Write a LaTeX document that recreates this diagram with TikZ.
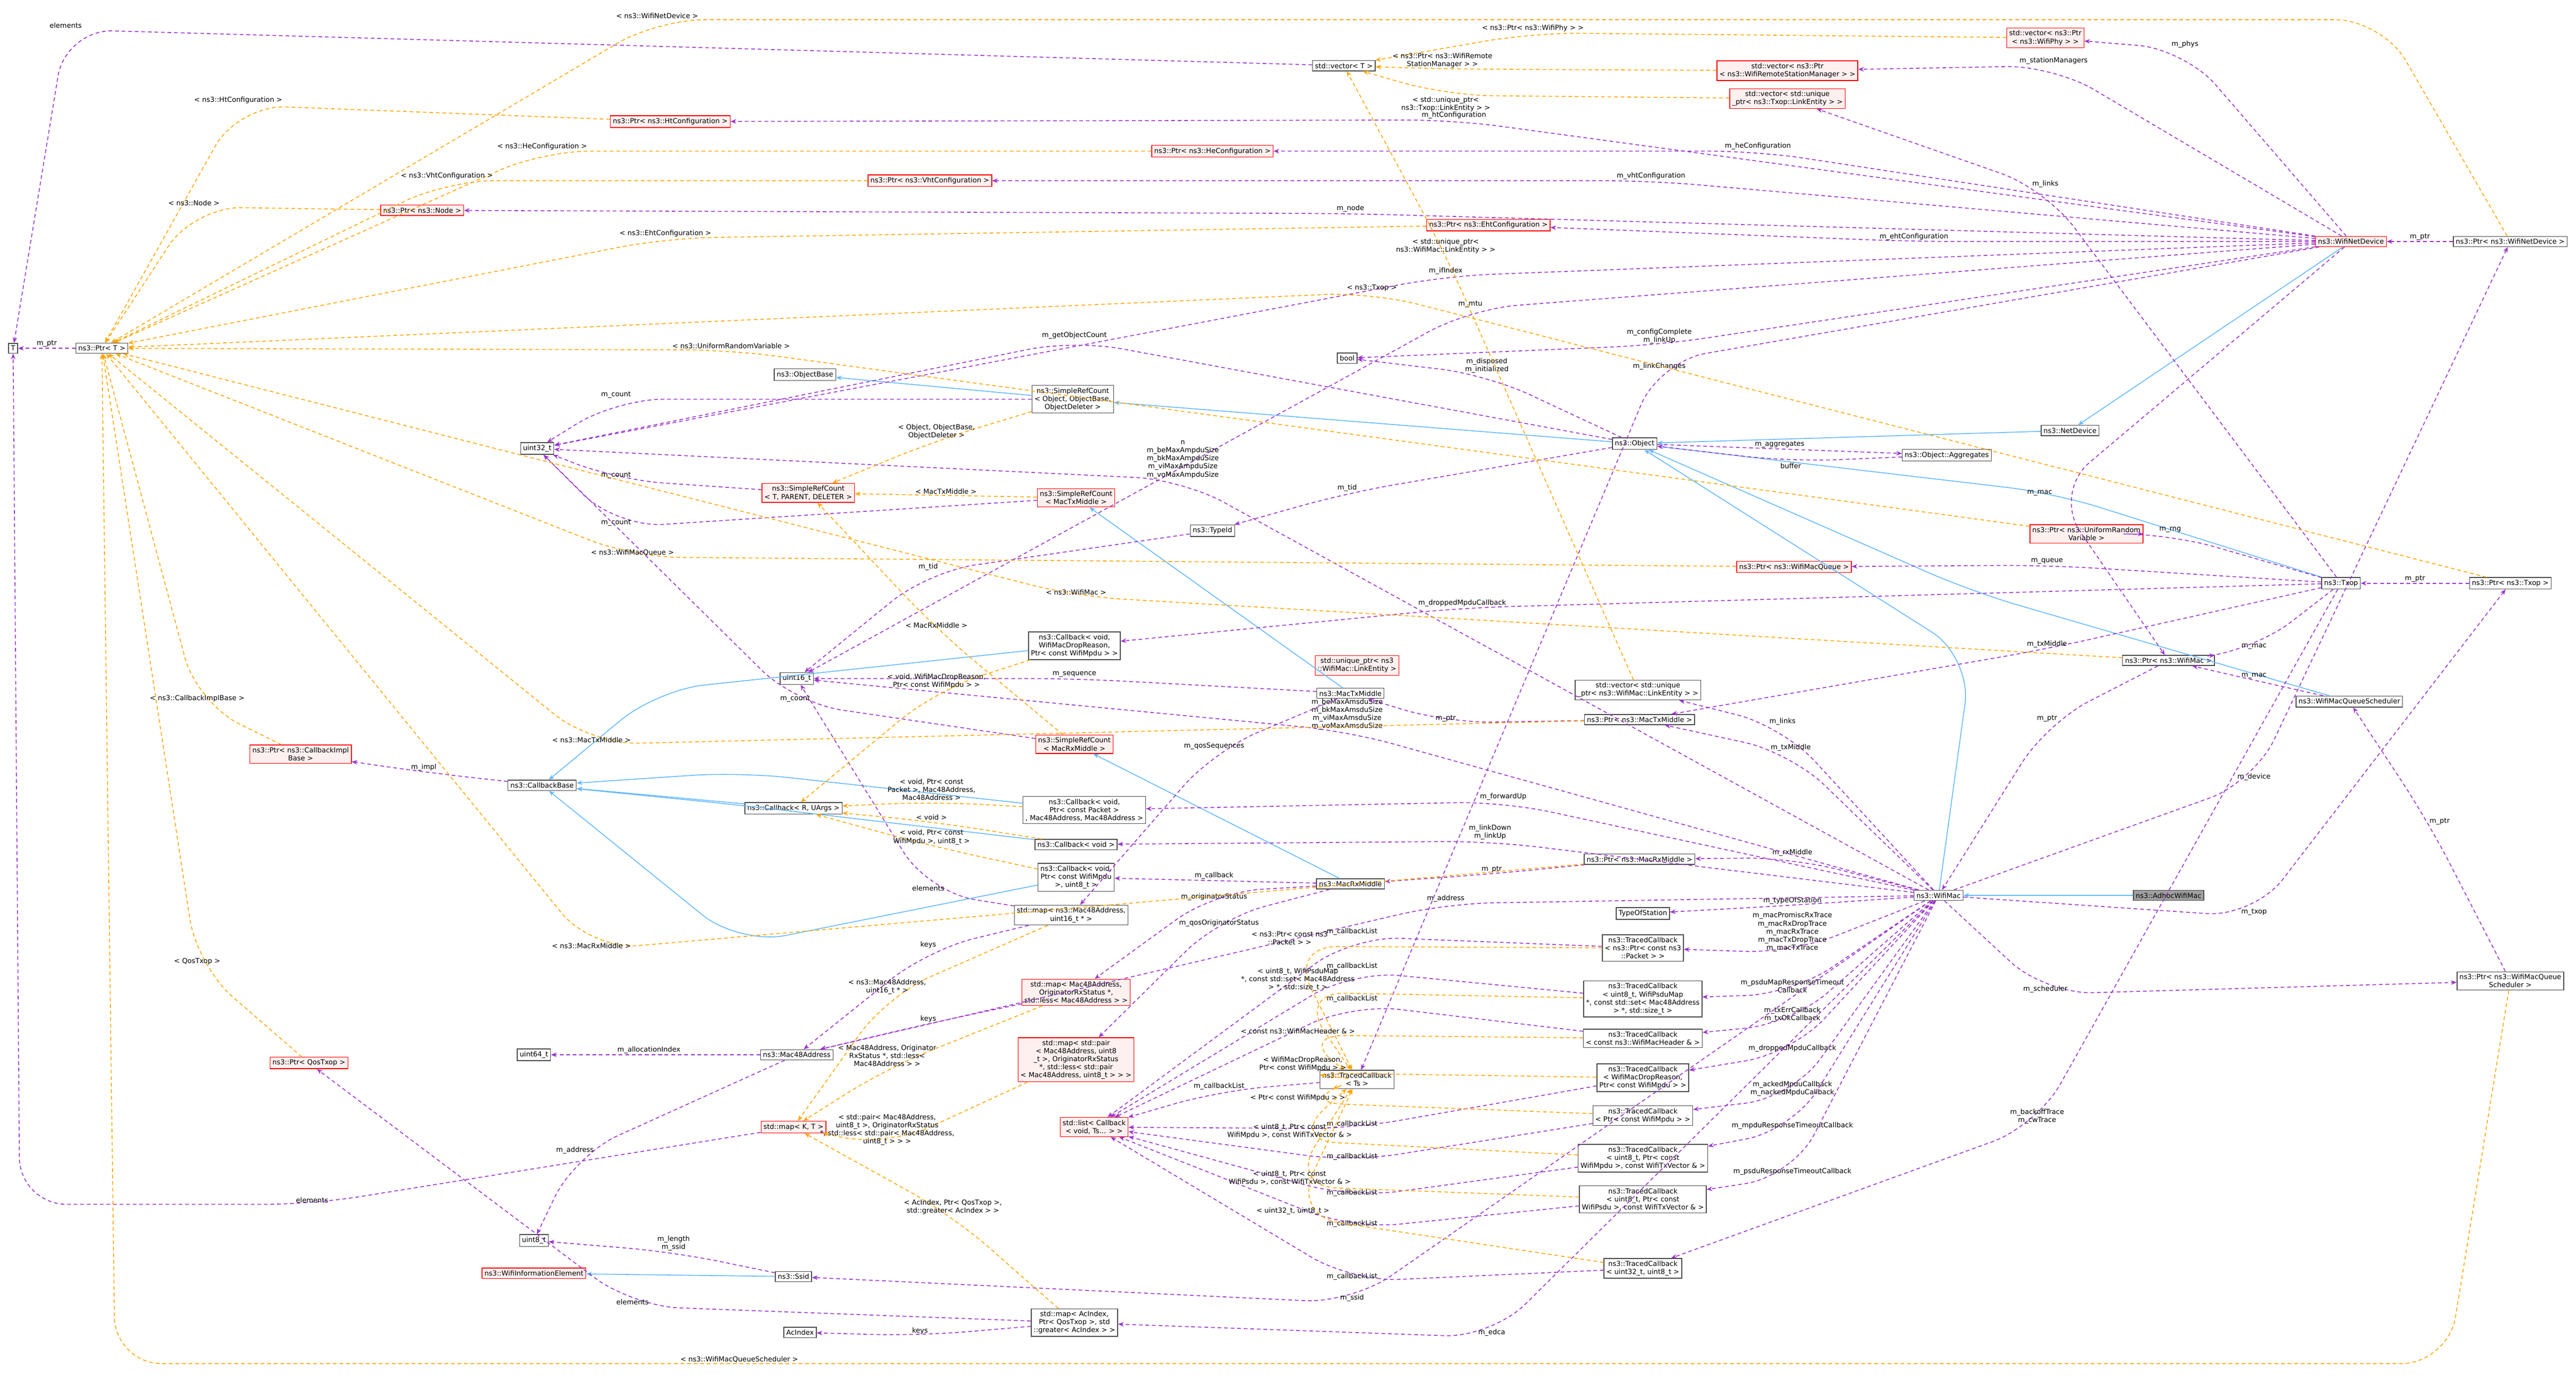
\documentclass[tikz,border=0pt]{standalone}
\usepackage{fontspec}
\setmainfont{DejaVu Sans}
\usetikzlibrary{arrows.meta}
\definecolor{memc}{HTML}{9A32CD}
\definecolor{tmpc}{HTML}{FFA500}
\definecolor{inhc}{HTML}{63B8FF}
\tikzset{
  box/.style={draw=gray!60!black,fill=white,inner sep=1.3pt,align=center,font=\fontsize{3.7}{4.3}\selectfont},
  redbox/.style={box,draw=red,fill=red!6},
  grbox/.style={box,fill=gray!75},
  lbl/.style={inner sep=0.5pt,align=center,font=\fontsize{3.7}{4.3}\selectfont},
  mem/.style={draw=memc,line width=0.45pt,dash pattern=on 2pt off 1.5pt,rounded corners=25pt,-{Stealth[length=3pt,width=2.4pt]}},
  tmp/.style={draw=tmpc,line width=0.45pt,dash pattern=on 2pt off 1.5pt,rounded corners=25pt,-{Stealth[length=3pt,width=2.4pt]}},
  inh/.style={draw=inhc,line width=0.45pt,rounded corners=25pt,-{Stealth[length=3pt,width=2.4pt]}}
}
\begin{document}
\begin{tikzpicture}[x=0.03081cm,y=-0.03081cm]
        \useasboundingbox (0,0) rectangle (1568,848.8);
        %类节点
        \node[grbox] (adhoc) at (1320,545) {ns3::AdhocWifiMac};
        \node[box] (wifimac) at (1180,545) {ns3::WifiMac};
        \node[redbox] (netdev) at (1431,147) {ns3::WifiNetDevice};
        \node[box] (ptrnetdev) at (1528,147) {ns3::Ptr< ns3::WifiNetDevice >};
        \node[box] (netdevice) at (1260,262) {ns3::NetDevice};
        \node[box] (object) at (995,270) {ns3::Object};
        \node[box] (aggregates) at (1185,277) {ns3::Object::Aggregates};
        \node[redbox] (ptrurv) at (1270,325) {ns3::Ptr< ns3::UniformRandom\\Variable >};
        \node[redbox] (ptrqueue) at (1092,345) {ns3::Ptr< ns3::WifiMacQueue >};
        \node[box] (txop) at (1425,355) {ns3::Txop};
        \node[box] (ptrtxop) at (1528,355) {ns3::Ptr< ns3::Txop >};
        \node[box] (ptrmac) at (1320,402) {ns3::Ptr< ns3::WifiMac >};
        \node[box] (sched) at (1430,427) {ns3::WifiMacQueueScheduler};
        \node[box] (ptrsched) at (1528,597) {ns3::Ptr< ns3::WifiMacQueue\\Scheduler >};
        \node[redbox] (vecphy) at (1245,23) {std::vector< ns3::Ptr\\< ns3::WifiPhy > >};
        \node[redbox] (vecrsm) at (1088,43) {std::vector< ns3::Ptr\\< ns3::WifiRemoteStationManager > >};
        \node[redbox] (vectxoplink) at (1088,60) {std::vector< std::unique\\\_ptr< ns3::Txop::LinkEntity > >};
        \node[box] (vecT) at (818,40) {std::vector< T >};
        \node[redbox] (ptrht) at (408,74) {ns3::Ptr< ns3::HtConfiguration >};
        \node[redbox] (ptrhe) at (738,92) {ns3::Ptr< ns3::HeConfiguration >};
        \node[redbox] (ptrvht) at (566,110) {ns3::Ptr< ns3::VhtConfiguration >};
        \node[redbox] (ptrnode) at (257,128) {ns3::Ptr< ns3::Node >};
        \node[redbox] (ptreht) at (906,137) {ns3::Ptr< ns3::EhtConfiguration >};
        \node[box] (T) at (8,212) {T};
        \node[box] (ptrT) at (62,212) {ns3::Ptr< T >};
        \node[box] (bool) at (820,218) {bool};
        \node[box] (objbase) at (490,228) {ns3::ObjectBase};
        \node[box] (srcobj) at (653,243) {ns3::SimpleRefCount\\< Object, ObjectBase,\\ObjectDeleter >};
        \node[box] (u32) at (327,273) {uint32\_t};
        \node[redbox] (srctpd) at (492,300) {ns3::SimpleRefCount\\< T, PARENT, DELETER >};
        \node[redbox] (srctx) at (655,303) {ns3::SimpleRefCount\\< MacTxMiddle >};
        \node[box] (typeid) at (738,323) {ns3::TypeId};
        \node[box] (cbdrop) at (654,393) {ns3::Callback< void,\\WifiMacDropReason,\\Ptr< const WifiMpdu > >};
        \node[box] (u16) at (485,413) {uint16\_t};
        \node[redbox] (uptrlink) at (826,405) {std::unique\_ptr< ns3\\::WifiMac::LinkEntity >};
        \node[box] (txmid) at (822,422) {ns3::MacTxMiddle};
        \node[box] (veclink) at (997,420) {std::vector< std::unique\\\_ptr< ns3::WifiMac::LinkEntity > >};
        \node[box] (ptrtxmid) at (998,438) {ns3::Ptr< ns3::MacTxMiddle >};
        \node[redbox] (srcrx) at (654,453) {ns3::SimpleRefCount\\< MacRxMiddle >};
        \node[redbox] (ptrcbimpl) at (183,459) {ns3::Ptr< ns3::CallbackImpl\\Base >};
        \node[box] (cbbase) at (330,478) {ns3::CallbackBase};
        \node[box] (cbR) at (483,492) {ns3::Callback< R, UArgs >};
        \node[box] (cbpkt) at (660,493) {ns3::Callback< void,\\Ptr< const Packet >\\, Mac48Address, Mac48Address >};
        \node[box] (cbvoid) at (655,514) {ns3::Callback< void >};
        \node[box] (ptrrxmid) at (998,523) {ns3::Ptr< ns3::MacRxMiddle >};
        \node[box] (cbmpdu) at (655,534) {ns3::Callback< void,\\Ptr< const WifiMpdu\\>, uint8\_t >};
        \node[box] (rxmid) at (822,538) {ns3::MacRxMiddle};
        \node[box] (mapseq) at (652,557) {std::map< ns3::Mac48Address,\\uint16\_t * >};
        \node[box] (tos) at (1000,556) {TypeOfStation};
        \node[box] (tcpkt) at (1000,577) {ns3::TracedCallback\\< ns3::Ptr< const ns3\\::Packet > >};
        \node[redbox] (maporig) at (655,604) {std::map< Mac48Address,\\OriginatorRxStatus *,\\std::less< Mac48Address > >};
        \node[box] (tcpsdumap) at (1000,608) {ns3::TracedCallback\\< uint8\_t, WifiPsduMap\\*, const std::set< Mac48Address\\> *, std::size\_t >};
        \node[box] (tchdr) at (1000,632) {ns3::TracedCallback\\< const ns3::WifiMacHeader \& >};
        \node[box] (u64) at (325,642) {uint64\_t};
        \node[box] (mac48) at (485,642) {ns3::Mac48Address};
        \node[redbox] (mappair) at (655,645) {std::map< std::pair\\< Mac48Address, uint8\\\_t >, OriginatorRxStatus\\*, std::less< std::pair\\< Mac48Address, uint8\_t > > >};
        \node[redbox] (ptrqos) at (188,647) {ns3::Ptr< QosTxop >};
        \node[box] (tcTs) at (826,657) {ns3::TracedCallback\\< Ts >};
        \node[box] (tcdrop) at (1000,656) {ns3::TracedCallback\\< WifiMacDropReason,\\Ptr< const WifiMpdu > >};
        \node[redbox] (mapKT) at (483,686) {std::map< K, T >};
        \node[box] (tcmpdu) at (1000,679) {ns3::TracedCallback\\< Ptr< const WifiMpdu > >};
        \node[redbox] (list) at (666,686) {std::list< Callback\\< void, Ts... > >};
        \node[box] (tcmpdutx) at (1000,705) {ns3::TracedCallback\\< uint8\_t, Ptr< const\\WifiMpdu >, const WifiTxVector \& >};
        \node[box] (tcpsdutx) at (1000,730) {ns3::TracedCallback\\< uint8\_t, Ptr< const\\WifiPsdu >, const WifiTxVector \& >};
        \node[box] (u8) at (325,755) {uint8\_t};
        \node[redbox] (wie) at (325,775) {ns3::WifiInformationElement};
        \node[box] (ssid) at (483,777) {ns3::Ssid};
        \node[box] (tcu32) at (1000,772) {ns3::TracedCallback\\< uint32\_t, uint8\_t >};
        \node[box] (mapac) at (654,805) {std::map< AcIndex,\\Ptr< QosTxop >, std\\::greater< AcIndex > >};
        \node[box] (acindex) at (487,811) {AcIndex};
        %继承
        \draw[inh] (adhoc) -- (wifimac);
        \draw[inh] (wifimac) -- (1200,400) -- (object);
        \draw[inh] (netdev) -- (netdevice);
        \draw[inh] (netdevice) -- (object);
        \draw[inh] (txop) -- (1250,300) -- (object);
        \draw[inh] (sched) -- (1200,360) -- (object);
        \draw[inh] (object) -- (srcobj);
        \draw[inh] (srcobj) -- (objbase);
        \draw[inh] (txmid) -- (srctx);
        \draw[inh] (rxmid) -- (srcrx);
        \draw[inh] (ssid) -- (wie);
        \draw[inh] (cbR) -- (cbbase);
        \draw[inh] (cbdrop) -- (400,420) -- (cbbase);
        \draw[inh] (cbpkt) -- (450,470) -- (cbbase);
        \draw[inh] (cbvoid) -- (450,490) -- (cbbase);
        \draw[inh] (cbmpdu) -- (450,575) -- (cbbase);
        %成员
        \draw[mem] (netdev) -- (1330,30) node[lbl,above]{m\_phys} -- (vecphy);
        \draw[mem] (netdev) -- (1250,40) node[lbl,above]{m\_stationManagers} -- (vecrsm);
        \draw[mem] (netdev) -- (885,73) node[lbl,above]{m\_htConfiguration} -- (ptrht);
        \draw[mem] (netdev) -- (1070,92) node[lbl,above]{m\_heConfiguration} -- (ptrhe);
        \draw[mem] (netdev) -- (1005,110) node[lbl,above]{m\_vhtConfiguration} -- (ptrvht);
        \draw[mem] (netdev) -- (822,130) node[lbl,above]{m\_node} -- (ptrnode);
        \draw[mem] (netdev) -- (1165,147) node[lbl,above]{m\_ehtConfiguration} -- (ptreht);
        \draw[mem] (netdev) -- (880,168) node[lbl,above]{m\_ifIndex} -- (u32);
        \draw[mem] (netdev) -- (895,188) node[lbl,above]{m\_mtu} -- (u16);
        \draw[mem] (netdev) -- (1010,210) node[lbl,above]{m\_configComplete\\m\_linkUp} -- (bool);
        \draw[mem] (netdev) -- (1010,220) node[lbl,below]{m\_linkChanges} -- (tcTs);
        \draw[mem] (netdev) -- (1250,300) node[lbl,left]{m\_mac} -- (ptrmac);
        \draw[mem] (ptrnetdev) -- (netdev) node[lbl,midway,above]{m\_ptr};
        \draw[mem] (wifimac) -- (1372,476) node[lbl,above]{m\_device} -- (ptrnetdev);
        \draw[mem] (wifimac) -- (1372,558) node[lbl,above]{m\_txop} -- (ptrtxop);
        \draw[mem] (wifimac) -- (1245,605) node[lbl,above]{m\_scheduler} -- (ptrsched);
        \draw[mem] (wifimac) -- (1091,522) node[lbl,above]{m\_rxMiddle} -- (ptrrxmid);
        \draw[mem] (wifimac) -- (1091,551) node[lbl,above]{m\_typeOfStation} -- (tos);
        \draw[mem] (wifimac) -- (1091,580) node[lbl,above]{m\_macPromiscRxTrace\\m\_macRxDropTrace\\m\_macRxTrace\\m\_macTxDropTrace\\m\_macTxTrace} -- (tcpkt);
        \draw[mem] (wifimac) -- (1091,605) node[lbl,above]{m\_psduMapResponseTimeout\\Callback} -- (tcpsdumap);
        \draw[mem] (wifimac) -- (1091,623) node[lbl,above]{m\_txErrCallback\\m\_txOkCallback} -- (tchdr);
        \draw[mem] (wifimac) -- (1091,641) node[lbl,above]{m\_droppedMpduCallback} -- (tcdrop);
        \draw[mem] (wifimac) -- (1091,668) node[lbl,above]{m\_ackedMpduCallback\\m\_nackedMpduCallback} -- (tcmpdu);
        \draw[mem] (wifimac) -- (1091,688) node[lbl,above]{m\_mpduResponseTimeoutCallback} -- (tcmpdutx);
        \draw[mem] (wifimac) -- (1091,716) node[lbl,above]{m\_psduResponseTimeoutCallback} -- (tcpsdutx);
        \draw[mem] (wifimac) -- (823,793) node[lbl,above]{m\_ssid} -- (ssid);
        \draw[mem] (wifimac) -- (908,814) node[lbl,above]{m\_edca} -- (mapac);
        \draw[mem] (wifimac) -- (915,488) node[lbl,above]{m\_forwardUp} -- (cbpkt);
        \draw[mem] (wifimac) -- (907,512) node[lbl,above]{m\_linkDown\\m\_linkUp} -- (cbvoid);
        \draw[mem] (wifimac) -- (1085,442) node[lbl,above]{m\_links} -- (veclink);
        \draw[mem] (wifimac) -- (1090,458) node[lbl,above]{m\_txMiddle} -- (ptrtxmid);
        \draw[mem] (wifimac) -- (880,550) node[lbl,above]{m\_address} -- (mac48);
        \draw[mem] (wifimac) -- (720,292) node[lbl,above]{n\\m\_beMaxAmpduSize\\m\_bkMaxAmpduSize\\m\_viMaxAmpduSize\\m\_voMaxAmpduSize} -- (u32);
        \draw[mem] (wifimac) -- (820,445) node[lbl,above]{m\_beMaxAmsduSize\\m\_bkMaxAmsduSize\\m\_viMaxAmsduSize\\m\_voMaxAmsduSize} -- (u16);
        \draw[mem] (ptrmac) -- (1246,440) node[lbl,above]{m\_ptr} -- (wifimac);
        \draw[mem] (txop) -- (1372,396) node[lbl,above]{m\_mac} -- (ptrmac);
        \draw[mem] (sched) -- (1372,414) node[lbl,above]{m\_mac} -- (ptrmac);
        \draw[mem] (txop) -- (1321,325) node[lbl,above]{m\_rng} -- (ptrurv);
        \draw[mem] (txop) -- (1246,344) node[lbl,above]{m\_queue} -- (ptrqueue);
        \draw[mem] (txop) -- (890,370) node[lbl,above]{m\_droppedMpduCallback} -- (cbdrop);
        \draw[mem] (txop) -- (1246,395) node[lbl,above]{m\_txMiddle} -- (ptrtxmid);
        \draw[mem] (txop) -- (1245,115) node[lbl,above]{m\_links} -- (vectxoplink);
        \draw[mem] (txop) -- (1240,685) node[lbl,above]{m\_backoffTrace\\m\_cwTrace} -- (tcu32);
        \draw[mem] (ptrtxop) -- (txop) node[lbl,midway,above]{m\_ptr};
        \draw[mem] (ptrsched) -- (1478,500) node[lbl,right]{m\_ptr} -- (sched);
        \draw[mem] (object) -- (aggregates) node[lbl,midway,above]{m\_aggregates};
        \draw[mem] (aggregates) -- (1090,281) node[lbl,below]{buffer} -- (object);
        \draw[mem] (object) -- (820,300) node[lbl,above]{m\_tid} -- (typeid);
        \draw[mem] (object) -- (905,228) node[lbl,above]{m\_disposed\\m\_initialized} -- (bool);
        \draw[mem] (object) -- (654,207) node[lbl,above]{m\_getObjectCount} -- (u32);
        \draw[mem] (srcobj) -- (375,243) node[lbl,above]{m\_count} -- (u32);
        \draw[mem] (srctpd) -- (375,292) node[lbl,above]{m\_count} -- (u32);
        \draw[mem] (srctx) -- (375,321) node[lbl,above]{m\_count} -- (u32);
        \draw[mem] (srcrx) -- (484,428) node[lbl,above]{m\_count} -- (u32);
        \draw[mem] (typeid) -- (565,348) node[lbl,above]{m\_tid} -- (u16);
        \draw[mem] (txmid) -- (654,413) node[lbl,above]{m\_sequence} -- (u16);
        \draw[mem] (txmid) -- (739,457) node[lbl,above]{m\_qosSequences} -- (mapseq);
        \draw[mem] (rxmid) -- (739,536) node[lbl,above]{m\_callback} -- (cbmpdu);
        \draw[mem] (rxmid) -- (739,543) node[lbl,below]{m\_originatorStatus} -- (maporig);
        \draw[mem] (rxmid) -- (742,559) node[lbl,below]{m\_qosOriginatorStatus} -- (mappair);
        \draw[mem] (ptrrxmid) -- (908,532) node[lbl,above]{m\_ptr} -- (rxmid);
        \draw[mem] (ptrtxmid) -- (880,440) node[lbl,above]{m\_ptr} -- (txmid);
        \draw[mem] (cbbase) -- (258,470) node[lbl,above]{m\_impl} -- (ptrcbimpl);
        \draw[mem] (mapseq) -- (565,543) node[lbl,above]{elements} -- (u16);
        \draw[mem] (mapseq) -- (565,578) node[lbl,above]{keys} -- (mac48);
        \draw[mem] (maporig) -- (565,623) node[lbl,above]{keys} -- (mac48);
        \draw[mem] (mac48) -- (350,703) node[lbl,above]{m\_address} -- (u8);
        \draw[mem] (mac48) -- (395,642) node[lbl,above]{m\_allocationIndex} -- (u64);
        \draw[mem] (ssid) -- (410,762) node[lbl,above]{m\_length\\m\_ssid} -- (u8);
        \draw[mem] (mapac) -- (385,795) node[lbl,above]{elements} -- (ptrqos);
        \draw[mem] (mapac) -- (560,813) node[lbl,above]{keys} -- (acindex);
        \draw[mem] (mapKT) -- (190,733) node[lbl,above]{elements} -- (12,733) -- (T);
        \draw[mem] (vecT) -- (40,18) node[lbl,above]{elements} -- (T);
        \draw[mem] (ptrT) -- (T) node[lbl,midway,above]{m\_ptr};
        \draw[mem] (tcTs) -- (742,664) node[lbl,above]{m\_callbackList} -- (list);
        \draw[mem] (tcpkt) -- (823,570) node[lbl,above]{m\_callbackList} -- (list);
        \draw[mem] (tcpsdumap) -- (823,591) node[lbl,above]{m\_callbackList} -- (list);
        \draw[mem] (tchdr) -- (823,611) node[lbl,above]{m\_callbackList} -- (list);
        \draw[mem] (tcdrop) -- (823,687) node[lbl,above]{m\_callbackList} -- (list);
        \draw[mem] (tcmpdu) -- (823,707) node[lbl,above]{m\_callbackList} -- (list);
        \draw[mem] (tcmpdutx) -- (823,729) node[lbl,above]{m\_callbackList} -- (list);
        \draw[mem] (tcpsdutx) -- (823,748) node[lbl,above]{m\_callbackList} -- (list);
        \draw[mem] (tcu32) -- (823,780) node[lbl,above]{m\_callbackList} -- (list);
        %模板实例
        \draw[tmp] (ptrnetdev) -- (1450,12) -- (400,12) node[lbl,above]{< ns3::WifiNetDevice >} -- (ptrT);
        \draw[tmp] (ptrht) -- (145,64) node[lbl,above]{< ns3::HtConfiguration >} -- (ptrT);
        \draw[tmp] (ptrhe) -- (330,92) node[lbl,above]{< ns3::HeConfiguration >} -- (ptrT);
        \draw[tmp] (ptrvht) -- (272,110) node[lbl,above]{< ns3::VhtConfiguration >} -- (ptrT);
        \draw[tmp] (ptrnode) -- (118,126) node[lbl,above]{< ns3::Node >} -- (ptrT);
        \draw[tmp] (ptreht) -- (405,145) node[lbl,above]{< ns3::EhtConfiguration >} -- (ptrT);
        \draw[tmp] (ptrtxop) -- (835,178) node[lbl,above]{< ns3::Txop >} -- (ptrT);
        \draw[tmp] (ptrurv) -- (445,213) node[lbl,above]{< ns3::UniformRandomVariable >} -- (ptrT);
        \draw[tmp] (ptrqueue) -- (385,339) node[lbl,above]{< ns3::WifiMacQueue >} -- (ptrT);
        \draw[tmp] (ptrmac) -- (655,363) node[lbl,above]{< ns3::WifiMac >} -- (ptrT);
        \draw[tmp] (ptrcbimpl) -- (120,428) node[lbl,above]{< ns3::CallbackImplBase >} -- (ptrT);
        \draw[tmp] (ptrtxmid) -- (360,453) node[lbl,above]{< ns3::MacTxMiddle >} -- (ptrT);
        \draw[tmp] (ptrrxmid) -- (360,578) node[lbl,above]{< ns3::MacRxMiddle >} -- (ptrT);
        \draw[tmp] (ptrqos) -- (120,588) node[lbl,above]{< QosTxop >} -- (ptrT);
        \draw[tmp] (ptrsched) -- (1490,830) -- (450,830) node[lbl,above]{< ns3::WifiMacQueueScheduler >} -- (70,830) -- (ptrT);
        \draw[tmp] (vecphy) -- (933,20) node[lbl,above]{< ns3::Ptr< ns3::WifiPhy > >} -- (vecT);
        \draw[tmp] (vecrsm) -- (878,42) node[lbl,above]{< ns3::Ptr< ns3::WifiRemote\\StationManager > >} -- (vecT);
        \draw[tmp] (vectxoplink) -- (880,58) node[lbl,below]{< std::unique\_ptr<\\ns3::Txop::LinkEntity > >} -- (vecT);
        \draw[tmp] (veclink) -- (880,155) node[lbl,above]{< std::unique\_ptr<\\ns3::WifiMac::LinkEntity > >} -- (vecT);
        \draw[tmp] (mapseq) -- (540,606) node[lbl,above]{< ns3::Mac48Address,\\uint16\_t * >} -- (mapKT);
        \draw[tmp] (maporig) -- (540,650) node[lbl,above]{< Mac48Address, Originator\\RxStatus *, std::less<\\Mac48Address > >} -- (mapKT);
        \draw[tmp] (mappair) -- (540,698) node[lbl,above]{< std::pair< Mac48Address,\\uint8\_t >, OriginatorRxStatus\\*, std::less< std::pair< Mac48Address,\\uint8\_t > > >} -- (mapKT);
        \draw[tmp] (mapac) -- (580,740) node[lbl,above]{< AcIndex, Ptr< QosTxop >,\\std::greater< AcIndex > >} -- (mapKT);
        \draw[tmp] (srcobj) -- (570,268) node[lbl,above]{< Object, ObjectBase,\\ObjectDeleter >} -- (srctpd);
        \draw[tmp] (srctx) -- (srctpd) node[lbl,midway,above]{< MacTxMiddle >};
        \draw[tmp] (srcrx) -- (570,383) node[lbl,above]{< MacRxMiddle >} -- (srctpd);
        \draw[tmp] (cbdrop) -- (570,420) node[lbl,above]{< void, WifiMacDropReason,\\Ptr< const WifiMpdu > >} -- (cbR);
        \draw[tmp] (cbpkt) -- (567,488) node[lbl,above]{< void, Ptr< const\\Packet >, Mac48Address,\\Mac48Address >} -- (cbR);
        \draw[tmp] (cbvoid) -- (567,500) node[lbl,above]{< void >} -- (cbR);
        \draw[tmp] (cbmpdu) -- (567,515) node[lbl,above]{< void, Ptr< const\\WifiMpdu >, uint8\_t >} -- (cbR);
        \draw[tmp] (tcpkt) -- (785,576) node[lbl,above]{< ns3::Ptr< const ns3\\::Packet > >} -- (tcTs);
        \draw[tmp] (tcpsdumap) -- (790,604) node[lbl,above]{< uint8\_t, WifiPsduMap\\*, const std::set< Mac48Address\\> *, std::size\_t >} -- (tcTs);
        \draw[tmp] (tchdr) -- (790,630) node[lbl,above]{< const ns3::WifiMacHeader \& >} -- (tcTs);
        \draw[tmp] (tcdrop) -- (793,653) node[lbl,above]{< WifiMacDropReason,\\Ptr< const WifiMpdu > >} -- (tcTs);
        \draw[tmp] (tcmpdu) -- (790,671) node[lbl,above]{< Ptr< const WifiMpdu > >} -- (tcTs);
        \draw[tmp] (tcmpdutx) -- (785,694) node[lbl,above]{< uint8\_t, Ptr< const\\WifiMpdu >, const WifiTxVector \& >} -- (tcTs);
        \draw[tmp] (tcpsdutx) -- (785,722) node[lbl,above]{< uint8\_t, Ptr< const\\WifiPsdu >, const WifiTxVector \& >} -- (tcTs);
        \draw[tmp] (tcu32) -- (787,740) node[lbl,above]{< uint32\_t, uint8\_t >} -- (tcTs);
\end{tikzpicture}
\end{document}
